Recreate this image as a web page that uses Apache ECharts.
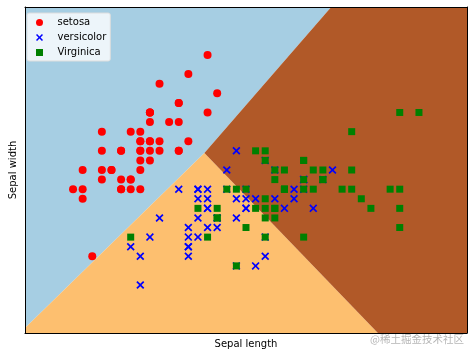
<!DOCTYPE html>
<html>
<head>
<meta charset="utf-8">
<script src="https://cdn.jsdelivr.net/npm/echarts@6/dist/echarts.min.js"></script>
<style>html,body{margin:0;padding:0;background:#fff;}#c{width:474px;height:354px;}</style>
</head>
<body>
<div id="c"></div>
<script>
var xRange = [3.8, 8.4];
var yRange = [1.5, 4.9];

// decision regions (vertices, data coordinates)
var regionSetosa = [[3.8,1.552],[5.667,3.377],[6.987,4.9],[3.8,4.9]];
var regionVersicolor = [[3.8,1.5],[3.8,1.552],[5.667,3.377],[7.472,1.5]];
var regionVirginica = [[5.667,3.377],[6.987,4.9],[8.4,4.9],[8.4,1.5],[7.472,1.5]];

var setosa = [[5.1,3.5],[4.9,3.0],[4.7,3.2],[4.6,3.1],[5.0,3.6],[5.4,3.9],[4.6,3.4],[5.0,3.4],[4.4,2.9],[4.9,3.1],
[5.4,3.7],[4.8,3.4],[4.8,3.0],[4.3,3.0],[5.8,4.0],[5.7,4.4],[5.4,3.9],[5.1,3.5],[5.7,3.8],[5.1,3.8],
[5.4,3.4],[5.1,3.7],[4.6,3.6],[5.1,3.3],[4.8,3.4],[5.0,3.0],[5.0,3.4],[5.2,3.5],[5.2,3.4],[4.7,3.2],
[4.8,3.1],[5.4,3.4],[5.2,4.1],[5.5,4.2],[4.9,3.1],[5.0,3.2],[5.5,3.5],[4.9,3.6],[4.4,3.0],[5.1,3.4],
[5.0,3.5],[4.5,2.3],[4.4,3.2],[5.0,3.5],[5.1,3.8],[4.8,3.0],[5.1,3.8],[4.6,3.2],[5.3,3.7],[5.0,3.3]];
var versicolor = [[7.0,3.2],[6.4,3.2],[6.9,3.1],[5.5,2.3],[6.5,2.8],[5.7,2.8],[6.3,3.3],[4.9,2.4],[6.6,2.9],[5.2,2.7],
[5.0,2.0],[5.9,3.0],[6.0,2.2],[6.1,2.9],[5.6,2.9],[6.7,3.1],[5.6,3.0],[5.8,2.7],[6.2,2.2],[5.6,2.5],
[5.9,3.2],[6.1,2.8],[6.3,2.5],[6.1,2.8],[6.4,2.9],[6.6,3.0],[6.8,2.8],[6.7,3.0],[6.0,2.9],[5.7,2.6],
[5.5,2.4],[5.5,2.4],[5.8,2.7],[6.0,2.7],[5.4,3.0],[6.0,3.4],[6.7,3.1],[6.3,2.3],[5.6,3.0],[5.5,2.5],
[5.5,2.6],[6.1,3.0],[5.8,2.6],[5.0,2.3],[5.6,2.7],[5.7,3.0],[5.7,2.9],[6.2,2.9],[5.1,2.5],[5.7,2.8]];
var virginica = [[6.3,3.3],[5.8,2.7],[7.1,3.0],[6.3,2.9],[6.5,3.0],[7.6,3.0],[4.9,2.5],[7.3,2.9],[6.7,2.5],[7.2,3.6],
[6.5,3.2],[6.4,2.7],[6.8,3.0],[5.7,2.5],[5.8,2.8],[6.4,3.2],[6.5,3.0],[7.7,3.8],[7.7,2.6],[6.0,2.2],
[6.9,3.2],[5.6,2.8],[7.7,2.8],[6.3,2.7],[6.7,3.3],[7.2,3.2],[6.2,2.8],[6.1,3.0],[6.4,2.8],[7.2,3.0],
[7.4,2.8],[7.9,3.8],[6.4,2.8],[6.3,2.8],[6.1,2.6],[7.7,3.0],[6.3,3.4],[6.4,3.1],[6.0,3.0],[6.9,3.1],
[6.7,3.1],[6.9,3.1],[5.8,2.7],[6.8,3.2],[6.7,3.3],[6.7,3.0],[6.3,2.5],[6.5,3.0],[6.2,3.4],[5.9,3.0]];

var xLabel = 'Sepal length';
var yLabel = 'Sepal width';
var watermark = '@稀土掘金技术社区';

var xMark = 'path://M0,1.5L1.5,0L5,3.5L8.5,0L10,1.5L6.5,5L10,8.5L8.5,10L5,6.5L1.5,10L0,8.5L3.5,5Z';
var sqMark = 'path://M0,0L10,0L10,10L0,10Z';
var FONT = 'DejaVu Sans';

function regionSeries(pts, color) {
  return {
    type: 'custom', silent: true, z: 1, clip: true,
    data: [0],
    renderItem: function (params, api) {
      return {
        type: 'polygon',
        shape: { points: pts.map(function (p) { return api.coord(p); }) },
        style: { fill: color, stroke: null }
      };
    }
  };
}

var axisCommon = {
  type: 'value',
  axisLabel: { show: false }, axisTick: { show: false }, splitLine: { show: false },
  axisLine: { show: true, onZero: false, lineStyle: { color: '#000', width: 1 } },
  z: 10
};
function ax(extra) { return Object.assign({}, axisCommon, extra); }

var chart = echarts.init(document.getElementById('c'), null, { renderer: 'canvas' });
chart.setOption({
  animation: false,
  backgroundColor: '#fff',
  grid: { left: 21, right: 7, top: 7, bottom: 21 },
  xAxis: [
    ax({ min: xRange[0], max: xRange[1], position: 'bottom',
      name: xLabel, nameLocation: 'middle', nameGap: 6,
      nameTextStyle: { fontFamily: FONT, fontSize: 10, color: '#000' } }),
    ax({ min: xRange[0], max: xRange[1], position: 'top' })
  ],
  yAxis: [
    ax({ min: yRange[0], max: yRange[1], position: 'left',
      name: yLabel, nameLocation: 'middle', nameGap: 7,
      nameTextStyle: { fontFamily: FONT, fontSize: 10, color: '#000' } }),
    ax({ min: yRange[0], max: yRange[1], position: 'right' })
  ],
  legend: {
    left: 27, top: 13, orient: 'vertical',
    backgroundColor: 'rgba(255,255,255,0.8)', borderColor: '#dddddd', borderWidth: 1, borderRadius: 2,
    padding: [4, 4, 3, 9], itemWidth: 20, itemHeight: 7, itemGap: 4,
    textStyle: { fontFamily: FONT, fontSize: 10, color: '#000', padding: [0, 0, 0, 3], lineHeight: 11 },
    data: [
      { name: 'setosa', icon: 'circle' },
      { name: 'versicolor', icon: xMark },
      { name: 'Virginica', icon: sqMark }
    ]
  },
  graphic: [{
    type: 'text', right: 10, bottom: 10, z: 100,
    style: { text: watermark, fill: 'rgba(150,150,150,0.7)', fontSize: 10.5, fontFamily: 'Noto Sans CJK SC' }
  }],
  series: [
    regionSeries(regionSetosa, '#a6cee3'),
    regionSeries(regionVersicolor, '#fdbf6f'),
    regionSeries(regionVirginica, '#b15928'),
    { name: 'setosa', type: 'scatter', data: setosa, symbol: 'circle', symbolSize: 8, z: 3,
      itemStyle: { color: '#ff0000', opacity: 1 } },
    { name: 'versicolor', type: 'scatter', data: versicolor, symbol: xMark, symbolSize: 8, z: 3,
      itemStyle: { color: '#0000ff', opacity: 1 } },
    { name: 'Virginica', type: 'scatter', data: virginica, symbol: 'rect', symbolSize: 7, z: 3,
      itemStyle: { color: '#008000', opacity: 1 } }
  ]
});
</script>
</body>
</html>
